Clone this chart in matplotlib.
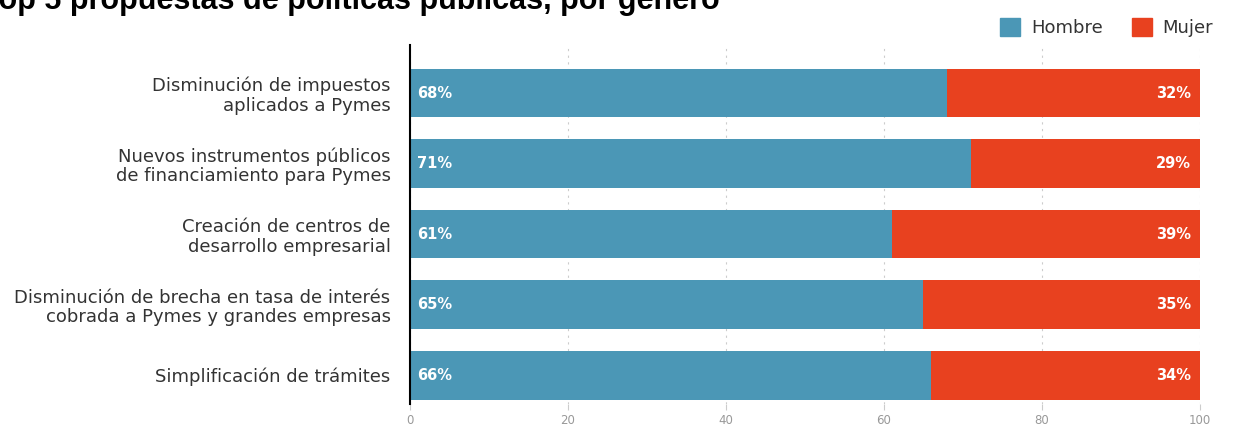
import matplotlib.pyplot as plt
from matplotlib.patches import Patch

categories = [
    "Disminución de impuestos\naplicados a Pymes",
    "Nuevos instrumentos públicos\nde financiamiento para Pymes",
    "Creación de centros de\ndesarrollo empresarial",
    "Disminución de brecha en tasa de interés\ncobrada a Pymes y grandes empresas",
    "Simplificación de trámites",
]
hombre = [68, 71, 61, 65, 66]
mujer = [32, 29, 39, 35, 34]
x_ticks = [0, 20, 40, 60, 80, 100]

BLUE = "#4b97b6"
RED = "#e8411f"
FONT = ["DejaVu Sans"]

plt.rcParams["font.family"] = FONT
fig = plt.figure(figsize=(12.33, 4.29), dpi=100, facecolor="white")
ax = fig.add_axes([0.3325, 0.058, 0.6405, 0.837])

y = list(range(len(categories)))
ax.barh(y, hombre, height=0.69, color=BLUE, zorder=2)
ax.barh(y, mujer, left=hombre, height=0.69, color=RED, zorder=2)

for yi, h, m in zip(y, hombre, mujer):
    ax.text(0.9, yi, f"{h}%", color="white", fontsize=10.5, fontweight="bold",
            va="center", ha="left", zorder=3)
    ax.text(98.9, yi, f"{m}%", color="white", fontsize=10.5, fontweight="bold",
            va="center", ha="right", zorder=3)

ax.set_ylim(4.41, -0.68)
ax.set_xlim(0, 100)
ax.set_yticks(y)
ax.set_yticklabels(categories, fontsize=13, color="#333333", linespacing=1.12)
ax.set_xticks(x_ticks)
ax.set_xticklabels([str(t) for t in x_ticks], fontsize=8.5, color="#999999")
ax.tick_params(axis="y", length=0, pad=14)
ax.tick_params(axis="x", length=4, color="#cccccc", pad=3)

ax.grid(axis="x", color="#cccccc", linestyle=(0, (2, 4)), linewidth=0.8, zorder=1)
ax.set_axisbelow(True)
for spine in ["top", "right", "bottom"]:
    ax.spines[spine].set_visible(False)
ax.spines["left"].set_color("black")
ax.spines["left"].set_linewidth(1.5)

fig.text(-0.015, 1 - 9 / 429, "Top 5 propuestas de políticas públicas, por género",
         fontsize=22, fontweight="bold", color="black", va="baseline",
         family=["Liberation Sans", "DejaVu Sans"])

handles = [Patch(color=BLUE, label="Hombre"), Patch(color=RED, label="Mujer")]
fig.legend(handles=handles, loc="upper right", bbox_to_anchor=(0.997, 0.995),
           ncol=2, frameon=False, fontsize=13, handlelength=1.1, handleheight=1.1,
           columnspacing=1.6, handletextpad=0.6, labelcolor="#333333")

fig.savefig("out.png", dpi=100)
